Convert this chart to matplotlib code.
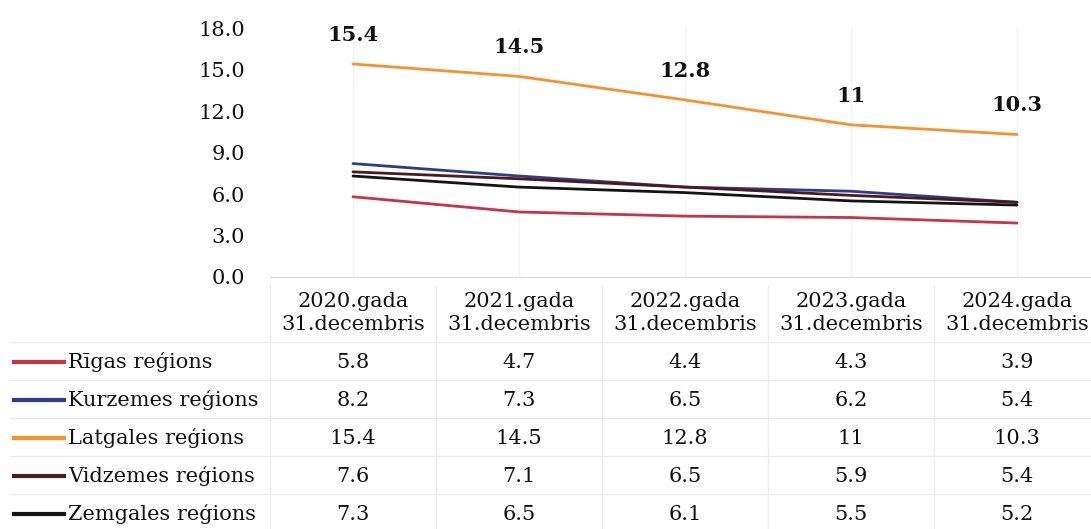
import matplotlib
matplotlib.use("Agg")
import matplotlib.pyplot as plt
from matplotlib.lines import Line2D

plt.rcParams['font.family'] = ['DejaVu Serif']

# dati
categories = ["2020.gada\n31.decembris", "2021.gada\n31.decembris", "2022.gada\n31.decembris",
              "2023.gada\n31.decembris", "2024.gada\n31.decembris"]
regions = ["Rīgas reģions", "Kurzemes reģions", "Latgales reģions", "Vidzemes reģions", "Zemgales reģions"]
riga = [5.8, 4.7, 4.4, 4.3, 3.9]
kurzeme = [8.2, 7.3, 6.5, 6.2, 5.4]
latgale = [15.4, 14.5, 12.8, 11, 10.3]
vidzeme = [7.6, 7.1, 6.5, 5.9, 5.4]
zemgale = [7.3, 6.5, 6.1, 5.5, 5.2]
value_labels = [["5.8", "4.7", "4.4", "4.3", "3.9"],
                ["8.2", "7.3", "6.5", "6.2", "5.4"],
                ["15.4", "14.5", "12.8", "11", "10.3"],
                ["7.6", "7.1", "6.5", "5.9", "5.4"],
                ["7.3", "6.5", "6.1", "5.5", "5.2"]]
yticks = [0, 3, 6, 9, 12, 15, 18]

series = [riga, kurzeme, latgale, vidzeme, zemgale]
colors = ["#C8334A", "#2F3C8C", "#F7902F", "#4A1A1C", "#141414"]

W, H = 1091, 529
fig = plt.figure(figsize=(W / 100, H / 100), dpi=100)

# grafiks
left, right = 270, 1100
ax = fig.add_axes([left / W, 1 - 277 / H, (right - left) / W, (277 - 28) / H])
x = list(range(len(categories)))
for vals, col in zip(series, colors):
    ax.plot(x, vals, color=col, lw=2.0, solid_capstyle='round')
for xi, v, lab in zip(x, latgale, value_labels[2]):
    ax.annotate(lab, (xi, v), xytext=(0, 21), textcoords='offset points',
                ha='center', va='center', fontsize=15, fontweight='bold', color='#111111')
ax.set_xlim(-0.5, 4.5)
ax.set_ylim(0, 18)
ax.set_yticks(yticks)
ax.set_yticklabels([f"{t:.1f}" for t in yticks], fontsize=15, color='#111111')
ax.set_xticks([])
for s in ['top', 'right', 'left']:
    ax.spines[s].set_visible(False)
ax.spines['bottom'].set_color('#d9d9d9')
ax.tick_params(axis='y', length=0, pad=18)
for xi in x:
    ax.axvline(xi, color='#f4f4f4', lw=1, zorder=0)

# tabula
tab = fig.add_axes([left / W, 0, (right - left) / W, (H - 285) / H])
tab.set_xlim(-0.5, 4.5)
tab.set_ylim(H, 285)
tab.axis('off')
for xi, c in zip(x, categories):
    tab.text(xi, 313, c, ha='center', va='center', fontsize=15, color='#111111', linespacing=1.3)
row_y = [362, 400, 438, 476, 514]
for gy in [342, 380, 418, 456, 494]:
    fig.add_artist(Line2D([10 / W, 1], [1 - gy / H, 1 - gy / H], transform=fig.transFigure,
                          color='#ececec', lw=1))
for xi in x:
    tab.axvline(xi - 0.5, color='#ececec', lw=1)
for ry, name, col, labs in zip(row_y, regions, colors, value_labels):
    fig.add_artist(Line2D([14 / W, 64 / W], [1 - ry / H, 1 - ry / H], transform=fig.transFigure,
                          color=col, lw=3))
    fig.text(68 / W, 1 - ry / H, name, ha='left', va='center', fontsize=15, color='#111111')
    for xi, lab in zip(x, labs):
        tab.text(xi, ry, lab, ha='center', va='center', fontsize=15, color='#111111')

fig.savefig("out.png", dpi=100)
